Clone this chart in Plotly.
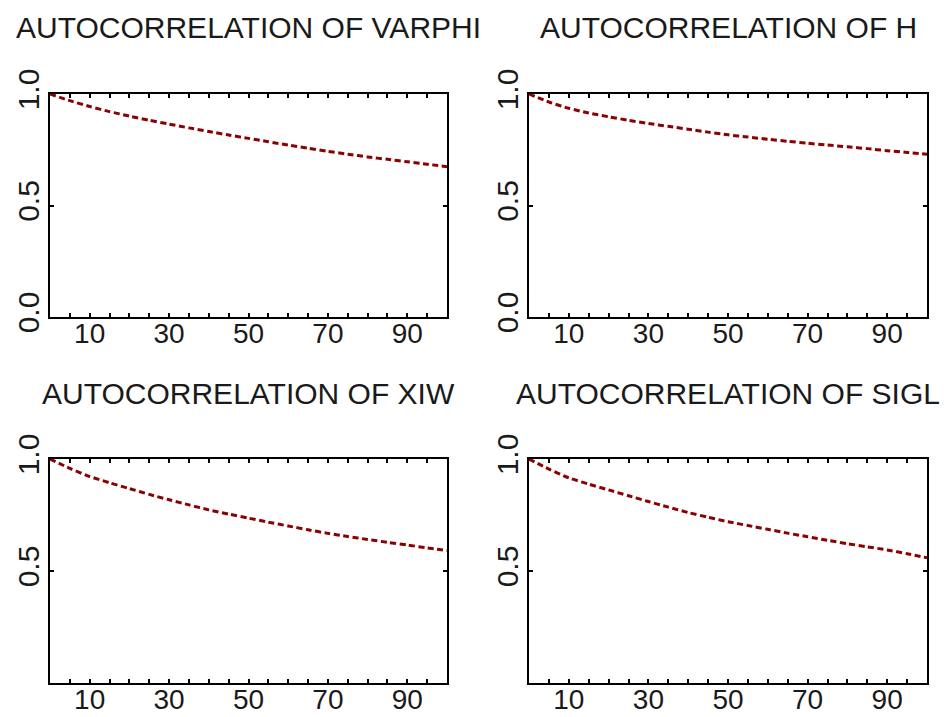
import plotly.graph_objects as go

lags = [0, 5, 10, 15, 20, 25, 30, 35, 40, 45, 50, 55, 60, 65, 70, 75, 80, 85, 90, 95, 100]

acf_varphi = [1.0, 0.970, 0.944, 0.921, 0.901, 0.882, 0.865, 0.848, 0.832, 0.816, 0.801,
              0.786, 0.771, 0.757, 0.743, 0.730, 0.718, 0.707, 0.696, 0.685, 0.674]
acf_h = [1.0, 0.964, 0.936, 0.915, 0.898, 0.882, 0.868, 0.855, 0.842, 0.829, 0.817,
         0.807, 0.797, 0.788, 0.779, 0.771, 0.763, 0.755, 0.746, 0.738, 0.730]
acf_xiw = [1.0, 0.958, 0.922, 0.894, 0.868, 0.842, 0.818, 0.795, 0.773, 0.754, 0.736,
           0.718, 0.701, 0.684, 0.668, 0.654, 0.641, 0.628, 0.616, 0.603, 0.591]
acf_sigl = [1.0, 0.955, 0.916, 0.888, 0.862, 0.836, 0.810, 0.785, 0.761, 0.740, 0.720,
            0.703, 0.686, 0.669, 0.653, 0.637, 0.622, 0.608, 0.594, 0.577, 0.559]

titles = ["AUTOCORRELATION OF VARPHI", "AUTOCORRELATION OF H",
          "AUTOCORRELATION OF XIW", "AUTOCORRELATION OF SIGL"]
series = [acf_varphi, acf_h, acf_xiw, acf_sigl]

x_tickvals = list(range(5, 100, 5))
x_ticktext = [str(v) if v in (10, 30, 50, 70, 90) else "" for v in x_tickvals]
y_ticks_top = [0.0, 0.5, 1.0]
y_ticks_bottom = [0.5, 1.0]

W, H = 949, 717
FONT = "Liberation Sans"
TEXT_COLOR = "#1a1a1a"
LINE_COLOR = "#8B0000"

# pixel boxes (left, right, top, bottom)
boxes = [(50, 447, 94, 317), (529, 927, 94, 317),
         (50, 447, 459, 683), (529, 927, 459, 683)]
title_y = [28, 28, 393, 393]

fig = go.Figure()
layout = dict(width=W, height=H, margin=dict(l=0, r=0, t=0, b=0, autoexpand=False),
              template="none",
              paper_bgcolor="white", plot_bgcolor="white", showlegend=False,
              font=dict(family=FONT, size=28, color=TEXT_COLOR))
annotations = []
for i, (ys, title, box) in enumerate(zip(series, titles, boxes)):
    n = "" if i == 0 else str(i + 1)
    fig.add_trace(go.Scatter(x=lags, y=ys, mode="lines", xaxis="x" + n, yaxis="y" + n,
                             line=dict(color=LINE_COLOR, width=3, dash="6px,3.5px",
                                       shape="spline", smoothing=0.6)))
    l, r, t, b = box
    common = dict(showline=True, linecolor="black", linewidth=2.2, mirror="ticks",
                  ticks="inside", ticklen=4, tickwidth=1.5, tickcolor="black",
                  showgrid=False, zeroline=False, fixedrange=True, automargin=False)
    layout["xaxis" + n] = dict(domain=[l / W, r / W], anchor="y" + n, range=[0, 100],
                               tickmode="array", tickvals=x_tickvals, ticktext=x_ticktext,
                               ticklabelstandoff=-10,
                               tickfont=dict(family=FONT, size=28, color=TEXT_COLOR),
                               **common)
    yt = y_ticks_top if i < 2 else y_ticks_bottom
    layout["yaxis" + n] = dict(domain=[1 - b / H, 1 - t / H], anchor="x" + n, range=[0, 1],
                               tickmode="array", tickvals=yt,
                               ticktext=["%.1f" % v for v in yt], tickangle=-90,
                               ticklabelstandoff=-3,
                               tickfont=dict(family=FONT, size=30, color=TEXT_COLOR),
                               **common)
    annotations.append(dict(text=title, x=(l + r) / 2 / W, y=1 - title_y[i] / H,
                            xref="paper", yref="paper", xanchor="center", yanchor="middle",
                            showarrow=False,
                            font=dict(family=FONT, size=30, color=TEXT_COLOR)))
layout["annotations"] = annotations
fig.update_layout(**layout)
fig.write_html("out.html")
